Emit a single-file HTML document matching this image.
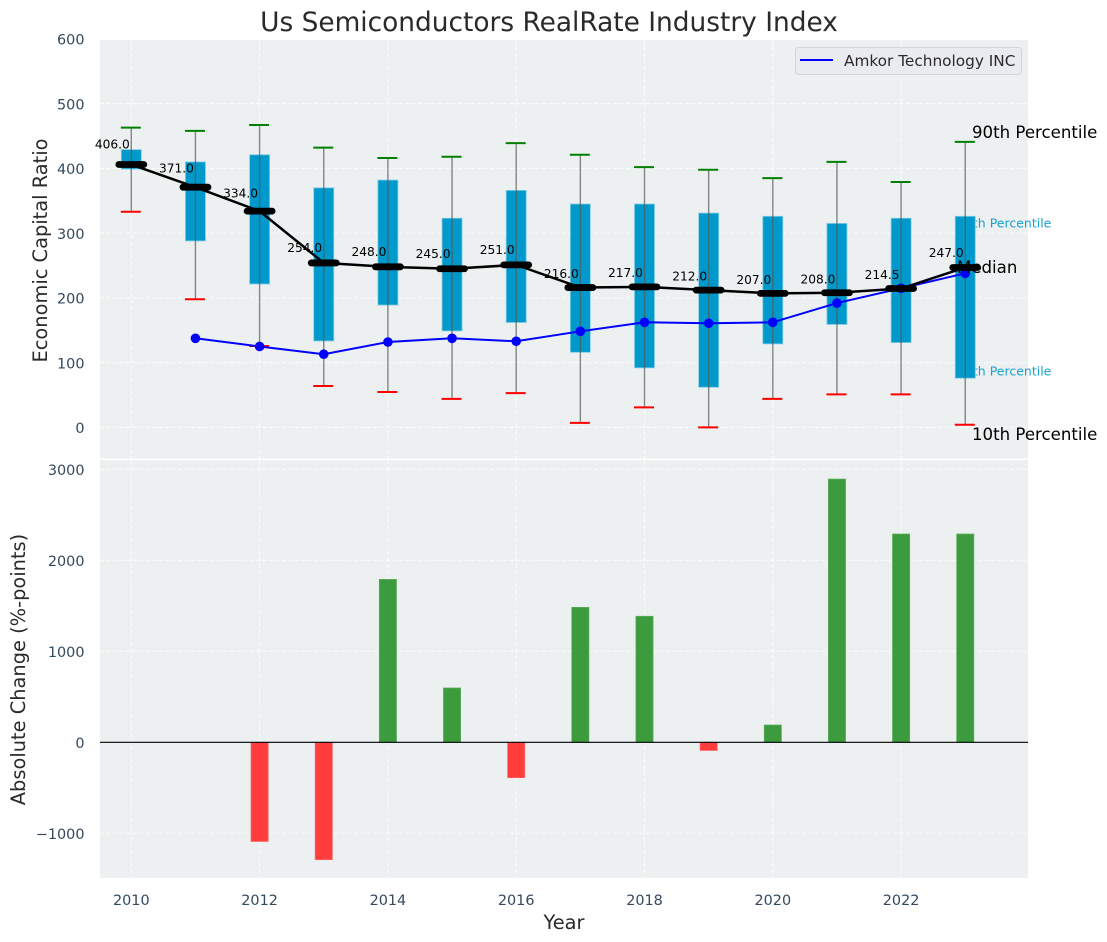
<!DOCTYPE html>
<html lang="en">
<head>
<meta charset="utf-8">
<title>Us Semiconductors RealRate Industry Index</title>
<style>
html,body{margin:0;padding:0;background:#fff;width:1107px;height:942px;overflow:hidden}
svg{display:block;font-family:"DejaVu Sans","Liberation Sans",sans-serif}
</style>
</head>
<body>
<svg id="chart" xmlns="http://www.w3.org/2000/svg" width="1107" height="942" viewBox="0 0 1107 942">
<defs><clipPath id="upperClip"><rect x="100" y="40" width="928" height="418.5"/></clipPath></defs>
<rect x="100" y="40" width="928" height="418.5" fill="#ecf0f1"/>
<rect x="100" y="460" width="928" height="418" fill="#ecf0f1"/>
<g id="grid"></g>
<g id="annotationsUnder">
<text x="957" y="227.3" font-size="12.5" fill="#0099cc" opacity="0.9">75th Percentile</text>
<text x="957" y="375.3" font-size="12.5" fill="#0099cc" opacity="0.9">25th Percentile</text>
</g>
<g id="boxes"></g>
<g id="whiskers"></g>
<g id="amkor"></g>
<g id="median"></g>
<g id="bars"></g>
<line x1="100" x2="1028" y1="742.3" y2="742.3" stroke="#000" stroke-width="1.2"/>
<g id="ticks"></g>
<text x="549" y="31" font-size="26.4" fill="#2a2a2a" text-anchor="middle">Us Semiconductors RealRate Industry Index</text>
<text transform="translate(47,250.5) rotate(-90)" font-size="19.4" fill="#2a2a2a" text-anchor="middle">Economic Capital Ratio</text>
<text transform="translate(25,669.5) rotate(-90)" font-size="19.4" fill="#2a2a2a" text-anchor="middle">Absolute Change (%-points)</text>
<text x="564" y="929" font-size="19.4" fill="#2a2a2a" text-anchor="middle">Year</text>
<text x="972" y="138" font-size="16.6" fill="#000">90th Percentile</text>
<text x="957" y="273" font-size="16.6" fill="#000">Median</text>
<text x="972" y="440" font-size="16.6" fill="#000">10th Percentile</text>
<g>
<rect x="795.5" y="47.5" width="226" height="27" rx="3" fill="#e9ebf0" stroke="#d3d5d8" stroke-width="1"/>
<line x1="800" x2="833" y1="60" y2="60" stroke="#0000ff" stroke-width="2"/>
<text x="844" y="66" font-size="15.3" fill="#2a2a2a">Amkor Technology INC</text>
</g>
</svg>
<script>
const years = [2010,2011,2012,2013,2014,2015,2016,2017,2018,2019,2020,2021,2022,2023];
const q90 = [463,458,467,432,416,418,439,421,402,398,385,410,379,441];
const q75 = [429,410,421,370,382,323,366,345,345,331,326,315,323,326];
const medians = [406,371,334,254,248,245,251,216,217,212,207,208,214.5,247];
const q25 = [399,288,221.5,133.5,189,149,162,116,92,62,129,159,131,76];
const q10 = [333,198,125.7,64,54.7,44,53,7,31,0,44,51,51,4];
const amkorYears = [2011,2012,2013,2014,2015,2016,2017,2018,2019,2020,2021,2022,2023];
const amkorValues = [137.6,125,113,131.9,137.6,133,148.4,162.3,160.8,162.3,192,214.8,238];
const changeYears = [2012,2013,2014,2015,2016,2017,2018,2019,2020,2021,2022,2023];
const changeValues = [-1090,-1290,1790,597,-389,1483,1385,-90,190,2893,2289,2289];
const xTicks = [2010,2012,2014,2016,2018,2020,2022];
const upperTicks = [0,100,200,300,400,500,600];
const lowerTicks = [-1000,0,1000,2000,3000];

const NS = 'http://www.w3.org/2000/svg';
const xS = v => 131.3 + (v - 2010) * 64.15;
const yU = v => 427.4 - v * 0.6475;
const yL = v => 742.3 - v * 0.091;
function mk(parent, tag, attrs, text) {
  const el = document.createElementNS(NS, tag);
  for (const k in attrs) el.setAttribute(k, attrs[k]);
  if (text !== undefined) el.textContent = text;
  document.getElementById(parent).appendChild(el);
  return el;
}
const dash = {stroke:'#ffffff','stroke-width':1,'stroke-dasharray':'4 2.5','stroke-opacity':0.85};

xTicks.forEach(t => {
  [[40,458.5],[460,878]].forEach(r => {
    const g = mk('grid','line',Object.assign({x1:xS(t),x2:xS(t),y1:r[0],y2:r[1]},dash));
    
    
  });
  const lab = mk('ticks','text',{x:xS(t),y:905,'font-size':14.4,fill:'#34495e','text-anchor':'middle'},String(t));
  
  
});
upperTicks.forEach(t => {
  const g = mk('grid','line',Object.assign({x1:100,x2:1028,y1:yU(t),y2:yU(t),'clip-path':'url(#upperClip)'},dash));
  
  
  const lab = mk('ticks','text',{x:84.5,y:yU(t)+5.6,'font-size':14.4,fill:'#34495e','text-anchor':'end'},String(t));
  
  
});
lowerTicks.forEach(t => {
  const g = mk('grid','line',Object.assign({x1:100,x2:1028,y1:yL(t),y2:yL(t)},dash));
  
  
  const lab = mk('ticks','text',{x:84.5,y:yL(t)+5.6,'font-size':14.4,fill:'#34495e','text-anchor':'end'},String(t).replace('-','\u2212'));
  
  
});

years.forEach((yr,i) => {
  const x = xS(yr);
  const b = mk('boxes','rect',{x:x-10,y:yU(q75[i]),width:20,height:yU(q25[i])-yU(q75[i]),fill:'#0099cc',stroke:'#7fcce5','stroke-width':0.8});
  
  
  const w = mk('whiskers','line',{x1:x,x2:x,y1:yU(q90[i]),y2:yU(q10[i]),stroke:'#555','stroke-width':1.4,'stroke-opacity':0.7});
  
  
  const hi = mk('whiskers','line',{x1:x-10.5,x2:x+9.5,y1:yU(q90[i]),y2:yU(q90[i]),stroke:'#008000','stroke-width':2});
  
  
  const lo = mk('whiskers','line',{x1:x-10.5,x2:x+9.5,y1:yU(q10[i]),y2:yU(q10[i]),stroke:'#ff0000','stroke-width':2});
  
  
});

const amkorLine = mk('amkor','polyline',{points:amkorYears.map((y,i)=>xS(y)+','+yU(amkorValues[i])).join(' '),fill:'none',stroke:'#0000ff','stroke-width':2});


amkorYears.forEach((y,i) => {
  const c = mk('amkor','circle',{cx:xS(y),cy:yU(amkorValues[i]),r:4.8,fill:'#0000ff'});
  
  
});

const medLine = mk('median','polyline',{points:years.map((y,i)=>xS(y)+','+yU(medians[i])).join(' '),fill:'none',stroke:'#000','stroke-width':2.5});


years.forEach((y,i) => {
  const m = mk('median','line',{x1:xS(y)-12.5,x2:xS(y)+12.5,y1:yU(medians[i]),y2:yU(medians[i]),stroke:'#000','stroke-width':6.8,'stroke-linecap':'round'});
  
  
  const t = mk('median','text',{x:xS(y)-19,y:yU(medians[i]*1.05)-2.7,'font-size':12.2,fill:'#000','text-anchor':'middle'},medians[i].toFixed(1));
  
  
});

changeYears.forEach((y,i) => {
  const v = changeValues[i];
  const top = Math.min(yL(v),yL(0));
  const r = mk('bars','rect',{x:xS(y)-8.6,y:top,width:17.2,height:Math.abs(yL(v)-yL(0)),fill:v>=0?'#3c9b3c':'#ff3d3d',stroke:v>=0?'#5cae5c':'#ff6a6a','stroke-width':0.7});
  
  
});
</script>
</body>
</html>
